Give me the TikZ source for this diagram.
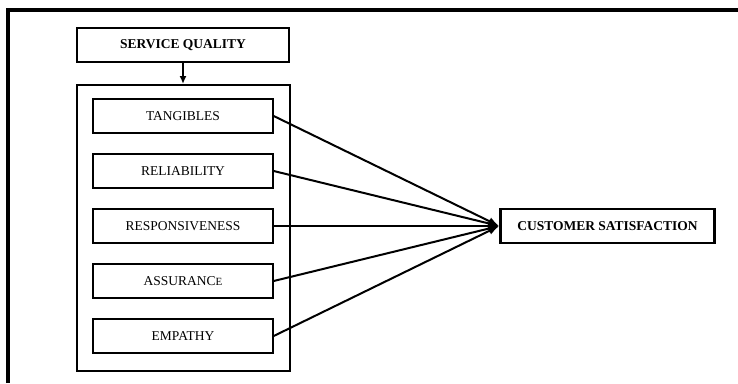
\documentclass[tikz,border=0pt]{standalone}
\usepackage{fontspec}
\setmainfont{Liberation Serif}
\usetikzlibrary{arrows.meta}
\begin{document}
\begin{tikzpicture}[x=1pt,y=-1pt,
  txt/.style={font=\fontsize{13.5}{16}\selectfont},
  dimbox/.style={draw,line width=1.4pt,minimum width=180pt,minimum height=34pt,inner sep=0pt,txt},
  headbox/.style={draw,line width=2pt,minimum height=34pt,inner sep=0pt,txt,font=\fontsize{13.5}{16}\selectfont\bfseries},
  conn/.style={line width=2pt,-{Latex[length=11pt,width=8pt]}}]
\useasboundingbox (0,0) rectangle (738,383);
\draw[line width=4pt] (8,383) -- (8,10) -- (738,10);
\node[headbox,minimum width=212pt] (sq) at (183,45) {SERVICE QUALITY};
\node[draw,line width=2pt,minimum width=213pt,minimum height=286pt,inner sep=0pt] (group) at (183.5,228) {};
\draw[line width=1.6pt,-{Latex[length=8pt,width=7pt]}] (sq.south) -- (group.north -| sq.south);
\node[dimbox] (tan) at (183,116) {TANGIBLES};
\node[dimbox] (rel) at (183,171) {RELIABILITY};
\node[dimbox] (res) at (183,226) {RESPONSIVENESS};
\node[dimbox] (ass) at (183,281) {ASSURANC{\fontsize{11}{13}\selectfont E}};
\node[dimbox] (emp) at (183,336) {EMPATHY};
\node[headbox,line width=2.5pt,minimum width=214pt] (cs) at (607.5,226) {CUSTOMER SATISFACTION};
\foreach \n in {tan,rel,res,ass,emp}
  \draw[conn] (\n.east) -- (cs.west);
\end{tikzpicture}
\end{document}
